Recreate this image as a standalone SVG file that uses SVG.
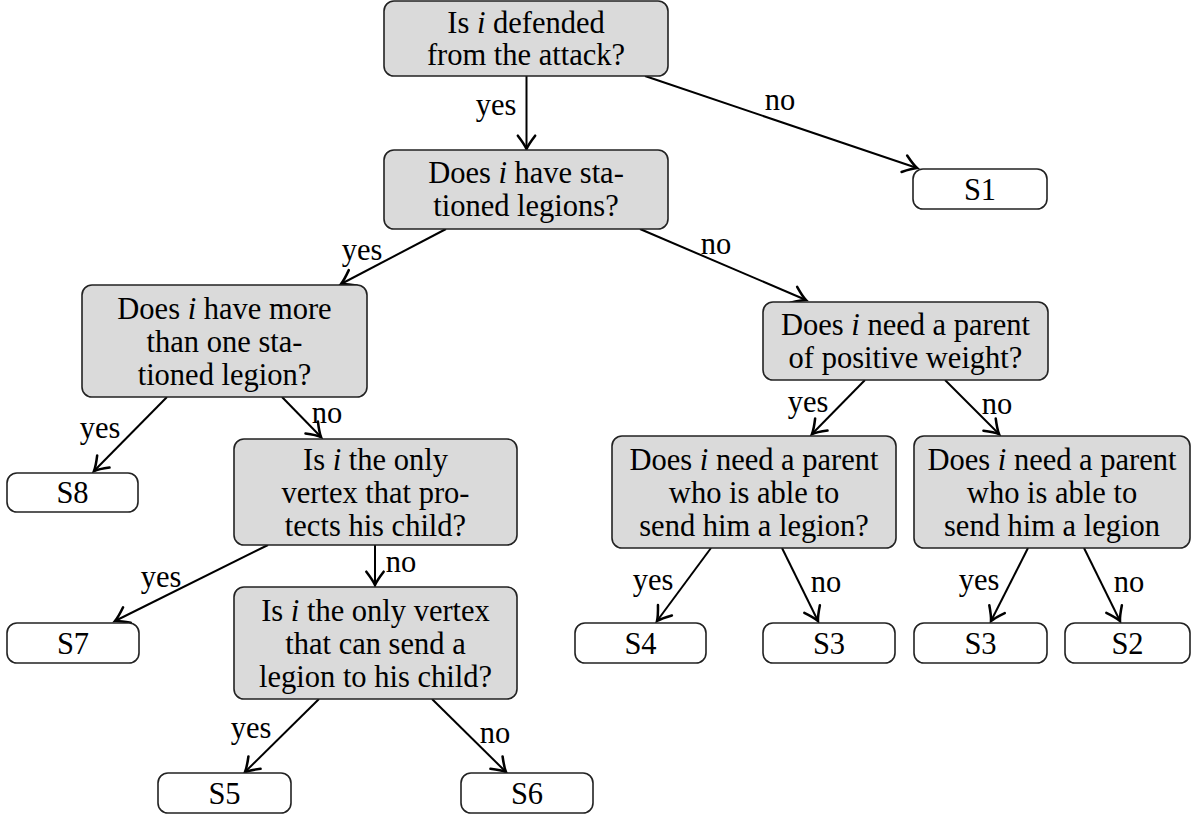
<svg xmlns="http://www.w3.org/2000/svg" width="1192" height="818" viewBox="0 0 1192 818" font-family="'Liberation Serif', 'Times New Roman', serif">
<style>
text{font-family:'Liberation Serif','Times New Roman',serif;font-size:30.5px;fill:#000;text-anchor:middle}
.q{fill:#dadada;stroke:#222;stroke-width:1.6}
.l{fill:#fff;stroke:#222;stroke-width:1.6}
.c{stroke:#000;stroke-width:2;fill:none;marker-end:url(#ah)}
.it{font-style:italic}
</style>
<defs>
<marker id="ah" markerUnits="userSpaceOnUse" markerWidth="24" markerHeight="24" viewBox="-13 -9 15 18" refX="0" refY="0" orient="auto">
<path d="M-10,-6.5 Q-3.5,-1.5 0,0 Q-3.5,1.5 -10,6.5" fill="none" stroke="#000" stroke-width="1.9" stroke-linecap="round"/>
</marker>
</defs>
<g id="connectors">
<line class="c" x1="526.5" y1="76" x2="526.5" y2="149"/>
<line class="c" x1="645" y1="76" x2="917" y2="168"/>
<line class="c" x1="446" y1="229" x2="341" y2="284"/>
<line class="c" x1="640" y1="229" x2="806" y2="300"/>
<line class="c" x1="167" y1="397" x2="94" y2="471"/>
<line class="c" x1="282" y1="397" x2="321" y2="437"/>
<line class="c" x1="268" y1="545" x2="115" y2="621"/>
<line class="c" x1="375" y1="545" x2="375" y2="585"/>
<line class="c" x1="319" y1="699" x2="245" y2="772"/>
<line class="c" x1="432" y1="699" x2="506" y2="772"/>
<line class="c" x1="865" y1="380" x2="812" y2="434"/>
<line class="c" x1="945" y1="380" x2="999" y2="434"/>
<line class="c" x1="711" y1="548" x2="657" y2="621"/>
<line class="c" x1="782" y1="548" x2="818" y2="621"/>
<line class="c" x1="1028" y1="548" x2="991" y2="621"/>
<line class="c" x1="1084" y1="548" x2="1120" y2="621"/>
<text x="496" y="115">yes</text>
<text x="780" y="110">no</text>
<text x="362" y="260">yes</text>
<text x="716" y="254">no</text>
<text x="100" y="438">yes</text>
<text x="327" y="423">no</text>
<text x="161" y="587">yes</text>
<text x="401" y="572">no</text>
<text x="251" y="738">yes</text>
<text x="495" y="743">no</text>
<text x="808" y="412">yes</text>
<text x="997" y="414">no</text>
<text x="653" y="590">yes</text>
<text x="826" y="592">no</text>
<text x="979" y="590">yes</text>
<text x="1129" y="592">no</text>
</g>
<g id="q1"><rect class="q" x="384" y="1" width="284" height="75" rx="10"/>
<text x="526" y="33">Is <tspan class="it">i</tspan> defended</text><text x="526" y="65">from the attack?</text></g>
<g id="q2"><rect class="q" x="384" y="150" width="284" height="79" rx="10"/>
<text x="526" y="183">Does <tspan class="it">i</tspan> have sta-</text><text x="526" y="216">tioned legions?</text></g>
<g id="q3"><rect class="q" x="82" y="285" width="285" height="112" rx="10"/>
<text x="224.5" y="319">Does <tspan class="it">i</tspan> have more</text><text x="224.5" y="352">than one sta-</text><text x="224.5" y="385">tioned legion?</text></g>
<g id="q4"><rect class="q" x="763" y="302" width="285" height="78" rx="10"/>
<text x="905.5" y="335">Does <tspan class="it">i</tspan> need a parent</text><text x="905.5" y="368">of positive weight?</text></g>
<g id="q5"><rect class="q" x="234" y="439" width="283" height="106" rx="10"/>
<text x="375.5" y="470">Is <tspan class="it">i</tspan> the only</text><text x="375.5" y="503">vertex that pro-</text><text x="375.5" y="536">tects his child?</text></g>
<g id="q6"><rect class="q" x="234" y="587" width="283" height="112" rx="10"/>
<text x="375.5" y="621">Is <tspan class="it">i</tspan> the only vertex</text><text x="375.5" y="654">that can send a</text><text x="375.5" y="687">legion to his child?</text></g>
<g id="q7"><rect class="q" x="612" y="436" width="284" height="112" rx="10"/>
<text x="754" y="470">Does <tspan class="it">i</tspan> need a parent</text><text x="754" y="503">who is able to</text><text x="754" y="536">send him a legion?</text></g>
<g id="q8"><rect class="q" x="914" y="436" width="276" height="112" rx="10"/>
<text x="1052" y="470">Does <tspan class="it">i</tspan> need a parent</text><text x="1052" y="503">who is able to</text><text x="1052" y="536">send him a legion</text></g>
<g id="s1"><rect class="l" x="913" y="169" width="134" height="40" rx="10"/><text x="980" y="200">S1</text></g>
<g id="s8"><rect class="l" x="7" y="473" width="131" height="39" rx="10"/><text x="72.5" y="503">S8</text></g>
<g id="s7"><rect class="l" x="7" y="623" width="132" height="40" rx="10"/><text x="73" y="654">S7</text></g>
<g id="s5"><rect class="l" x="158" y="773" width="133" height="40" rx="10"/><text x="224.5" y="804">S5</text></g>
<g id="s6"><rect class="l" x="461" y="773" width="132" height="40" rx="10"/><text x="527" y="804">S6</text></g>
<g id="s4"><rect class="l" x="575" y="623" width="131" height="40" rx="10"/><text x="640.5" y="654">S4</text></g>
<g id="s3a"><rect class="l" x="763" y="623" width="132" height="40" rx="10"/><text x="829" y="654">S3</text></g>
<g id="s3b"><rect class="l" x="914" y="623" width="133" height="40" rx="10"/><text x="980.5" y="654">S3</text></g>
<g id="s2"><rect class="l" x="1065" y="623" width="125" height="40" rx="10"/><text x="1127.5" y="654">S2</text></g>
</svg>
